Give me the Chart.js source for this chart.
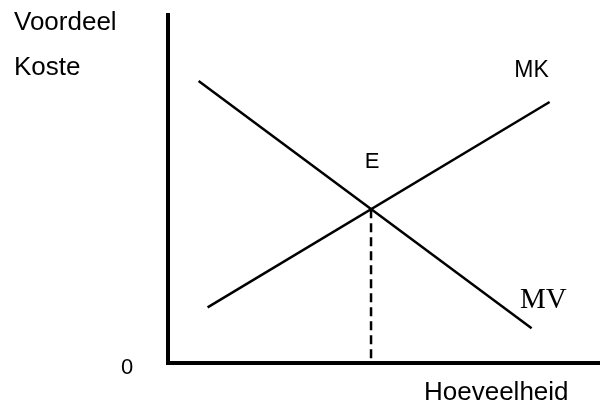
<!DOCTYPE html>
<html>
<head>
<meta charset="utf-8">
<script src="https://cdn.jsdelivr.net/npm/chart.js@4"></script>
<style>
  html, body { margin:0; padding:0; background:#fff; }
  #wrap { width:600px; height:404px; }
</style>
</head>
<body>
<div id="wrap"><canvas id="chart" width="600" height="404"></canvas></div>
<script>
// Curves (quantity on x, value/cost on y)
const mvPoints = [{x:0.85, y:8.1}, {x:10.1, y:1.0}];   // marginal benefit
const mkPoints = [{x:1.1, y:1.6}, {x:10.6, y:7.5}];    // marginal cost
const eqPoint = {x:5.64, y:4.42};
const dropPoints = [eqPoint, {x:eqPoint.x, y:0}];

// Text placed on the chart (data coords)
const curveLabels = [
    {text:'E',  x:5.67, y:5.6,  align:'center', font:'22px "Liberation Sans", Arial, sans-serif'},
    {text:'MK', x:9.62, y:8.22, align:'left',   font:'23px "Liberation Sans", Arial, sans-serif'},
    {text:'MV', x:9.78, y:1.58, align:'left',   font:'29px "Liberation Serif", "Times New Roman", serif'}
];
// Axis captions (canvas coords)
const axisLabels = [
    {text:'Voordeel',    px:14,  py:30,  align:'left'},
    {text:'Koste',       px:14,  py:75,  align:'left'},
    {text:'Hoeveelheid', px:424, py:400, align:'left'},
    {text:'0',           px:127, py:374, align:'center', font:'22px "Liberation Sans", Arial, sans-serif'}
];

const textPlugin = {
    id: 'textLabels',
    afterDraw(chart) {
        const ctx = chart.ctx;
        const xs = chart.scales.x, ys = chart.scales.y;
        ctx.save();
        ctx.fillStyle = '#000';
        ctx.textBaseline = 'alphabetic';
        curveLabels.forEach(l => {
            ctx.font = l.font;
            ctx.textAlign = l.align;
            ctx.fillText(l.text, xs.getPixelForValue(l.x), ys.getPixelForValue(l.y));
        });
        axisLabels.forEach(l => {
            ctx.font = l.font || '26px "Liberation Sans", Arial, sans-serif';
            ctx.textAlign = l.align;
            ctx.fillText(l.text, l.px, l.py);
        });
        ctx.restore();
    }
};

new Chart(document.getElementById('chart'), {
    type: 'scatter',
    data: {
        datasets: [
            { label:'MV', data: mvPoints, showLine:true, borderColor:'#000', borderWidth:2.5, pointRadius:0 },
            { label:'MK', data: mkPoints, showLine:true, borderColor:'#000', borderWidth:2.5, pointRadius:0 },
            { label:'E', data: dropPoints, showLine:true, borderColor:'#000', borderWidth:2.5, borderDash:[9,5], pointRadius:0 }
        ]
    },
    options: {
        responsive: false,
        animation: false,
        layout: { padding: { left:168, top:15, right:0, bottom:41 } },
        plugins: { legend:{display:false}, tooltip:{enabled:false} },
        scales: {
            x: {
                type:'linear', min:0, max:12,
                grid:{display:false, drawTicks:false},
                ticks:{display:false},
                border:{display:true, color:'#000', width:4},
                afterFit(s) { s.height = 0; }
            },
            y: {
                type:'linear', min:0, max:10,
                grid:{display:false, drawTicks:false},
                ticks:{display:false},
                border:{display:true, color:'#000', width:4},
                afterFit(s) { s.width = 0; }
            }
        }
    },
    plugins: [textPlugin]
});
</script>
</body>
</html>
